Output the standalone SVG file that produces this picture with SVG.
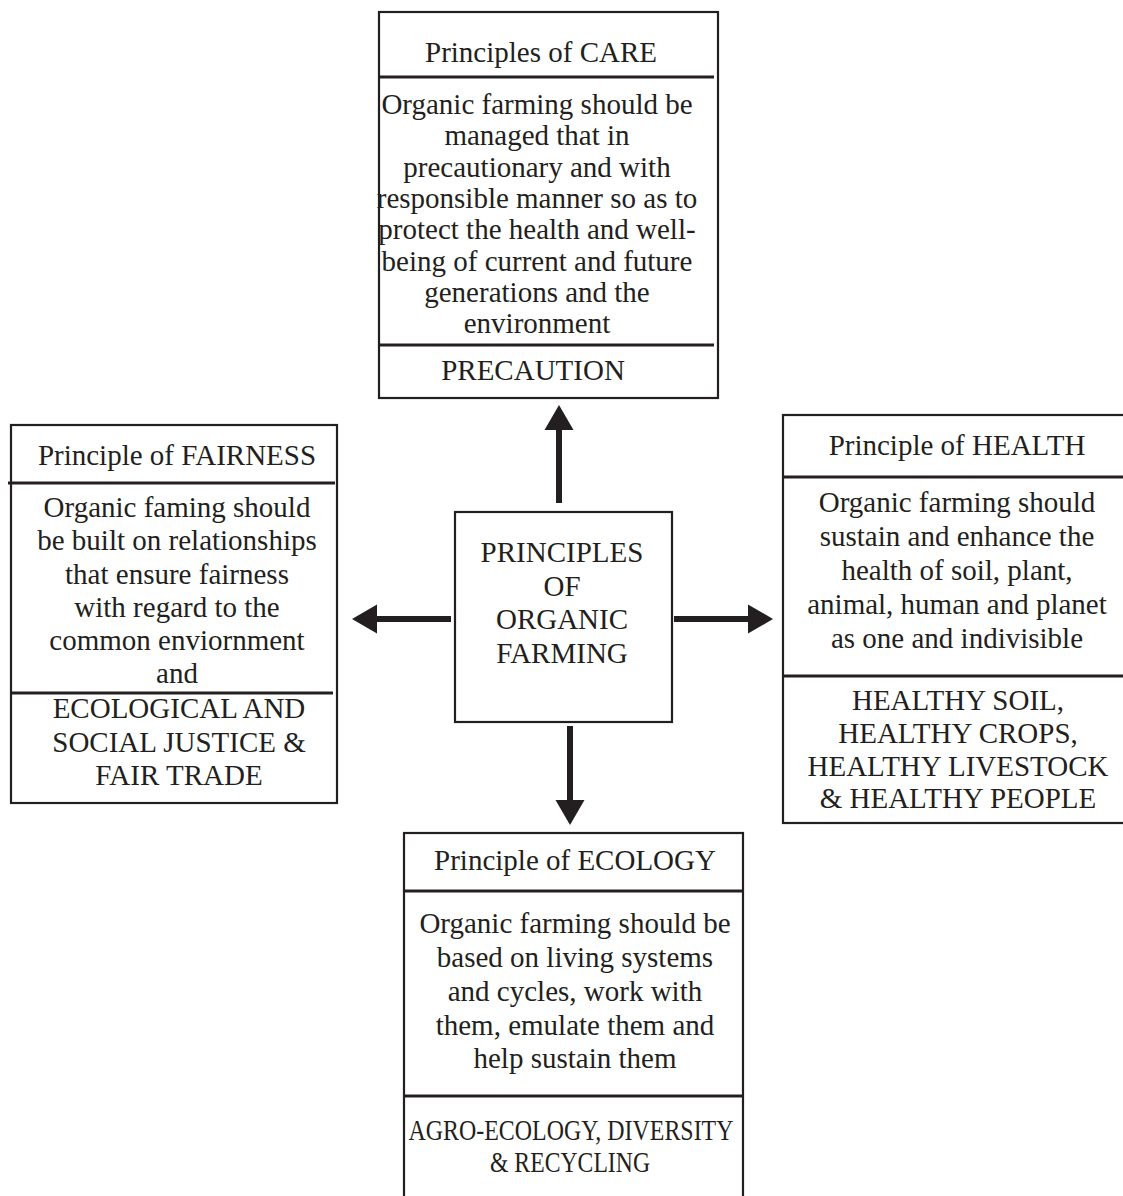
<svg xmlns="http://www.w3.org/2000/svg" width="1123" height="1196" viewBox="0 0 1123 1196">
<style>
  .box { fill: #ffffff; stroke: #231f20; stroke-width: 2.2; }
  .div { stroke: #231f20; stroke-width: 3.2; }
  .t { font-family: "Liberation Serif", "Times New Roman", serif; font-size: 29px; fill: #231f20; text-anchor: middle; }
  .conn { stroke: #231f20; stroke-width: 6; fill: none; marker-end: url(#head); }
</style>
<defs>
  <marker id="head" markerUnits="userSpaceOnUse" markerWidth="26" markerHeight="30" viewBox="0 -15 26 30" refX="0" refY="0" orient="auto" overflow="visible">
    <path d="M0,-14.5 L25,0 L0,14.5 Z" fill="#231f20"/>
  </marker>
</defs>
<rect width="1123" height="1196" fill="#ffffff"/>

<g id="care">
  <rect class="box" x="379" y="12" width="339" height="386"/>
  <line class="div" x1="379" y1="77" x2="714" y2="77"/>
  <line class="div" x1="379" y1="345" x2="714" y2="345"/>
  <text class="t" x="541" y="62">Principles of CARE</text>
  <text class="t" x="537" y="114">Organic farming should be</text>
  <text class="t" x="537" y="145">managed that in</text>
  <text class="t" x="537" y="177">precautionary and with</text>
  <text class="t" x="537" y="208">responsible manner so as to</text>
  <text class="t" x="537" y="239">protect the health and well-</text>
  <text class="t" x="537" y="271">being of current and future</text>
  <text class="t" x="537" y="302">generations and the</text>
  <text class="t" x="537" y="333">environment</text>
  <text class="t" x="533" y="380">PRECAUTION</text>
</g>

<g id="fairness">
  <rect class="box" x="11" y="425" width="326" height="378"/>
  <line class="div" x1="8" y1="483" x2="335" y2="483"/>
  <line class="div" x1="12" y1="693" x2="333" y2="693"/>
  <text class="t" x="177" y="465">Principle of FAIRNESS</text>
  <text class="t" x="177" y="517">Organic faming should</text>
  <text class="t" x="177" y="550">be built on relationships</text>
  <text class="t" x="177" y="584">that ensure fairness</text>
  <text class="t" x="177" y="617">with regard to the</text>
  <text class="t" x="177" y="650">common enviornment</text>
  <text class="t" x="177" y="683">and</text>
  <text class="t" x="179" y="718">ECOLOGICAL AND</text>
  <text class="t" x="179" y="752">SOCIAL JUSTICE &amp;</text>
  <text class="t" x="179" y="785">FAIR TRADE</text>
</g>

<g id="health">
  <rect class="box" x="783" y="415" width="350" height="408"/>
  <line class="div" x1="783" y1="477" x2="1133" y2="477"/>
  <line class="div" x1="783" y1="676" x2="1133" y2="676"/>
  <text class="t" x="957" y="455">Principle of HEALTH</text>
  <text class="t" x="957" y="512">Organic farming should</text>
  <text class="t" x="957" y="546">sustain and enhance the</text>
  <text class="t" x="957" y="580">health of soil, plant,</text>
  <text class="t" x="957" y="614">animal, human and planet</text>
  <text class="t" x="957" y="648">as one and indivisible</text>
  <text class="t" x="958" y="710">HEALTHY SOIL,</text>
  <text class="t" x="958" y="743">HEALTHY CROPS,</text>
  <text class="t" x="958" y="776">HEALTHY LIVESTOCK</text>
  <text class="t" x="958" y="808">&amp; HEALTHY PEOPLE</text>
</g>

<g id="ecology">
  <rect class="box" x="404" y="833" width="339" height="380"/>
  <line class="div" x1="404" y1="891" x2="743" y2="891"/>
  <line class="div" x1="404" y1="1096" x2="743" y2="1096"/>
  <text class="t" x="575" y="870">Principle of ECOLOGY</text>
  <text class="t" x="575" y="933">Organic farming should be</text>
  <text class="t" x="575" y="967">based on living systems</text>
  <text class="t" x="575" y="1001">and cycles, work with</text>
  <text class="t" x="575" y="1035">them, emulate them and</text>
  <text class="t" x="575" y="1068">help sustain them</text>
  <text class="t" x="571" y="1140" font-size="26" textLength="325" lengthAdjust="spacingAndGlyphs">AGRO-ECOLOGY, DIVERSITY</text>
  <text class="t" x="570" y="1172" font-size="26" textLength="160" lengthAdjust="spacingAndGlyphs">&amp; RECYCLING</text>
</g>

<g id="center">
  <rect class="box" x="455" y="512" width="217" height="210"/>
  <text class="t" x="562" y="562">PRINCIPLES</text>
  <text class="t" x="562" y="596">OF</text>
  <text class="t" x="562" y="629">ORGANIC</text>
  <text class="t" x="562" y="663">FARMING</text>
</g>

<g id="connectors">
  <line class="conn" x1="559" y1="503" x2="559" y2="430"/>
  <line class="conn" x1="451" y1="619" x2="377" y2="619"/>
  <line class="conn" x1="674" y1="619" x2="748" y2="619"/>
  <line class="conn" x1="570" y1="726" x2="570" y2="800"/>
</g>
</svg>
